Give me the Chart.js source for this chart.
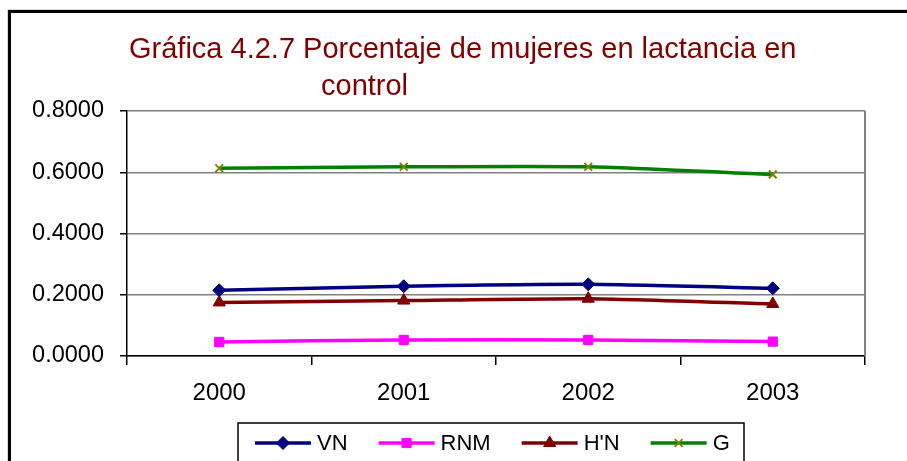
<!DOCTYPE html>
<html><head><meta charset="utf-8">
<script src="https://cdn.jsdelivr.net/npm/chart.js@4/dist/chart.umd.min.js"></script>
<style>html,body{margin:0;padding:0;background:#fff;overflow:hidden}#wrap{width:907px;height:461px;position:relative}</style>
</head><body><div id="wrap"><canvas id="c" width="907" height="461"></canvas></div>
<script>
const years = ['2000', '2001', '2002', '2003'];
const vn  = [0.2145, 0.2277, 0.2340, 0.2210];
const rnm = [0.0460, 0.0525, 0.0525, 0.0470];
const hn  = [0.1750, 0.1810, 0.1870, 0.1700];
const g   = [0.6130, 0.6180, 0.6180, 0.5930];
const seriesNames = ['VN', 'RNM', "H'N", 'G'];
const titleLines = ['Gráfica 4.2.7 Porcentaje de mujeres en lactancia en', 'control'];

const FONT = '"Liberation Sans", Arial, sans-serif';

const styles = [
  {line: '#000080', fill: '#000080', pt: 'rectRot', r: 6.5},
  {line: '#FF00FF', fill: '#FF00FF', pt: 'rect', r: 6.5},
  {line: '#800000', fill: '#800000', pt: 'triangle', r: 7},
  {line: '#008000', fill: '#808000', pt: 'crossRot', r: 5.5}
];
const values = [vn, rnm, hn, g];

const datasets = values.map((v, i) => ({
  label: seriesNames[i],
  data: v,
  borderColor: styles[i].line,
  backgroundColor: styles[i].fill,
  pointBackgroundColor: styles[i].fill,
  pointBorderColor: styles[i].fill,
  pointBorderWidth: styles[i].pt === 'crossRot' ? 2 : 1,
  pointStyle: styles[i].pt,
  pointRadius: styles[i].r,
  borderWidth: 3.5,
  tension: 0.2,
  fill: false
}));

const framePlugin = {
  id: 'frame',
  beforeDraw(chart) {
    const ctx = chart.ctx;
    ctx.save();
    ctx.fillStyle = '#fff';
    ctx.fillRect(0, 0, chart.width, chart.height);
    ctx.strokeStyle = '#d8d8d8';
    ctx.lineWidth = 1;
    ctx.beginPath();
    ctx.moveTo(7.5, chart.height); ctx.lineTo(7.5, 9.5); ctx.lineTo(chart.width, 9.5);
    ctx.stroke();
    ctx.strokeStyle = '#000';
    ctx.lineWidth = 3;
    ctx.beginPath();
    ctx.moveTo(9.5, chart.height); ctx.lineTo(9.5, 11.5); ctx.lineTo(chart.width, 11.5);
    ctx.stroke();
    // title
    ctx.fillStyle = '#800000';
    ctx.font = '29px ' + FONT;
    ctx.textAlign = 'left';
    ctx.textBaseline = 'alphabetic';
    ctx.fillText(titleLines[0], 129, 58);
    ctx.fillText(titleLines[1], 321, 94.5);
    ctx.restore();
  },
  beforeDatasetsDraw(chart) {
    const ctx = chart.ctx, a = chart.chartArea;
    ctx.save();
    ctx.strokeStyle = '#808080';
    ctx.lineWidth = 2;
    ctx.beginPath();
    ctx.moveTo(a.right, a.top); ctx.lineTo(a.right, a.bottom);
    ctx.stroke();
    ctx.restore();
  },
  afterDraw(chart) {
    const ctx = chart.ctx;
    ctx.save();
    // legend box
    ctx.strokeStyle = '#000';
    ctx.lineWidth = 1.5;
    ctx.strokeRect(238, 423, 506, 60);
    ctx.font = '22px ' + FONT;
    ctx.textBaseline = 'middle';
    ctx.textAlign = 'left';
    let x = 255;
    const y = 443;
    chart.data.datasets.forEach((ds, i) => {
      ctx.strokeStyle = ds.borderColor;
      ctx.lineWidth = 3.5;
      ctx.beginPath();
      ctx.moveTo(x, y); ctx.lineTo(x + 56, y);
      ctx.stroke();
      ctx.fillStyle = ds.pointBackgroundColor;
      ctx.strokeStyle = ds.pointBorderColor;
      ctx.lineWidth = ds.pointBorderWidth;
      Chart.helpers.drawPoint(ctx, {pointStyle: ds.pointStyle, radius: ds.pointRadius, rotation: 0, borderWidth: ds.pointBorderWidth}, x + 28, y);
      ctx.fillStyle = '#000';
      ctx.fillText(ds.label, x + 62, y + 1);
      x += 62 + ctx.measureText(ds.label).width + 31;
    });
    ctx.restore();
  }
};

new Chart(document.getElementById('c'), {
  type: 'line',
  data: {labels: years, datasets},
  options: {
    responsive: false,
    animation: false,
    devicePixelRatio: 1,
    layout: {padding: {left: 0, right: 42, top: 111, bottom: 0}},
    plugins: {legend: {display: false}, title: {display: false}, tooltip: {enabled: false}},
    scales: {
      x: {
        type: 'category',
        offset: true,
        afterFit(s) { s.height = 105; },
        grid: {offset: true, drawOnChartArea: false, drawTicks: true, tickLength: 9, color: '#000', lineWidth: 1.5},
        border: {color: '#000', width: 1.5},
        ticks: {color: '#000', font: {family: FONT, size: 24}, padding: 14, maxRotation: 0}
      },
      y: {
        min: 0, max: 0.8,
        afterFit(s) { s.width = 127; },
        grid: {color: '#808080', lineWidth: 1.5, tickColor: '#000', tickLength: 7, drawTicks: true},
        border: {color: '#000', width: 1.5},
        ticks: {stepSize: 0.2, color: '#000', font: {family: FONT, size: 23.5}, padding: 16,
                callback: v => Number(v).toFixed(4)}
      }
    }
  },
  plugins: [framePlugin]
});
</script>
</body></html>
